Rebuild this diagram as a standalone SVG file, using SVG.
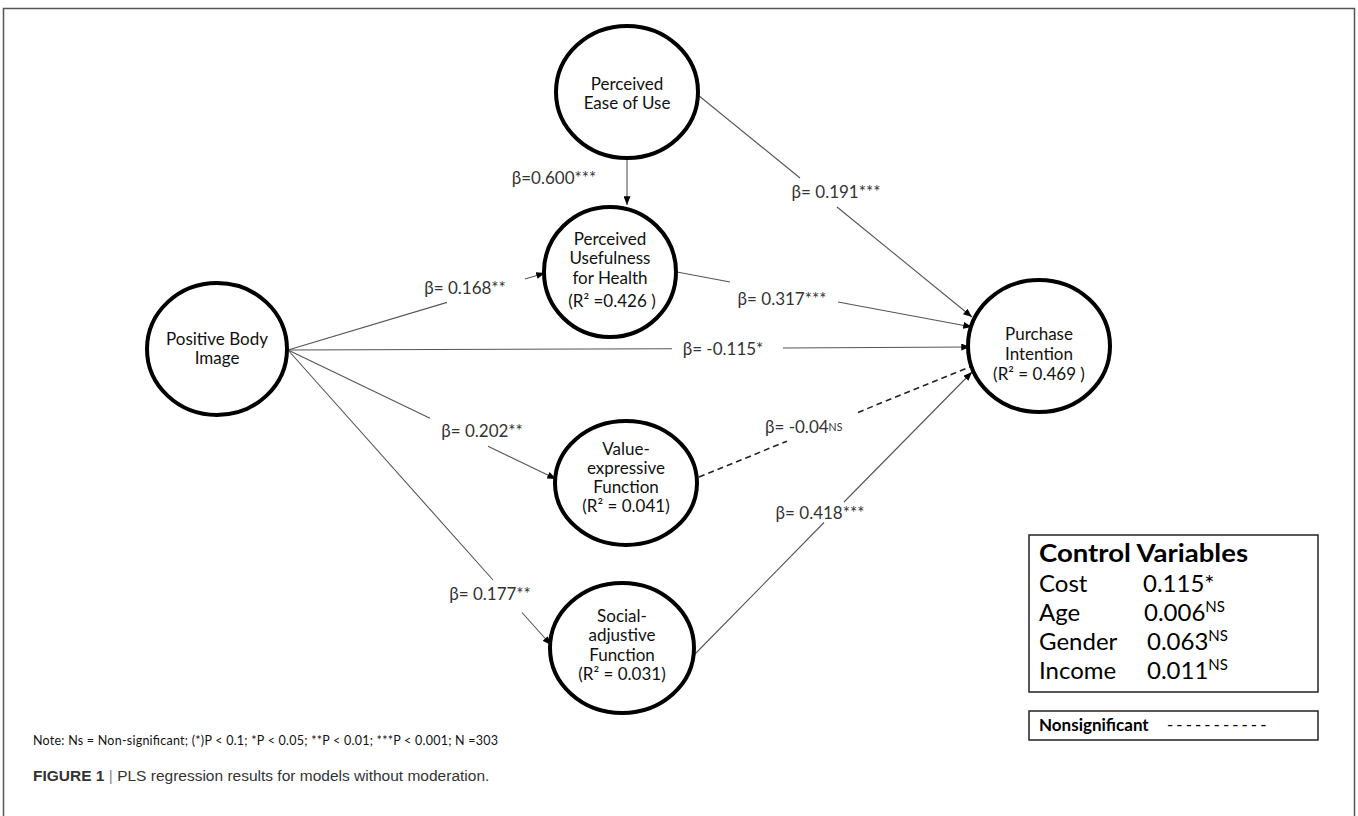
<svg xmlns="http://www.w3.org/2000/svg" width="1358" height="816" viewBox="0 0 1358 816">
<defs>
<style>
.frame{fill:none;stroke:#555;stroke-width:1.5}
.node{fill:#fff;stroke:#000;stroke-width:4}
.nt{font-family:Lato,"Open Sans",sans-serif;font-size:17px;fill:#111;text-anchor:middle}
.lbl{font-family:Lato,"Open Sans",sans-serif;font-size:17px;fill:#333;text-anchor:middle}
.edge{fill:none;stroke:#555;stroke-width:1.1}
.dash{stroke:#222;stroke-width:1.6;stroke-dasharray:6 4}
.box{fill:#fff;stroke:#222;stroke-width:1.5}
.cv{font-family:Lato,"Open Sans",sans-serif;font-size:24px;fill:#000}
.lg{font-family:Lato,"Open Sans",sans-serif;font-size:17px;fill:#000}
.note{font-family:Lato,"Open Sans",sans-serif;font-size:12.5px;fill:#111}
.cap{font-family:"Liberation Sans",Arial,sans-serif;font-size:15.5px;fill:#333}
</style>
<marker id="ah" viewBox="0 0 10 8" refX="10" refY="4" markerWidth="9" markerHeight="7" markerUnits="userSpaceOnUse" orient="auto">
<path d="M0,0 L10,4 L0,8 z" fill="#000"/>
</marker>
</defs>
<rect class="frame" x="3.5" y="8.5" width="1351" height="830"/>

<g id="connectors">
<path class="edge" d="M627,158 L627,205" marker-end="url(#ah)"/>
<path class="edge" d="M698,95 L800,178 M837,207 L972,317" marker-end="url(#ah)"/>
<path class="edge" d="M677,272 L730,282 M838,302 L972,327" marker-end="url(#ah)"/>
<path class="edge" d="M288,350 L447,302.4 M525,279 L545,273" marker-end="url(#ah)"/>
<path class="edge" d="M288,350 L672,348.8 M783,348 L970,347" marker-end="url(#ah)"/>
<path class="edge" d="M288,350 L430,418.3 M488,446.3 L556,479" marker-end="url(#ah)"/>
<path class="edge" d="M288,350 L493,580 M522,612.5 L551,645" marker-end="url(#ah)"/>
<path class="edge dash" d="M699,477 L787,441.2 M858,412.4 L972,366"/>
<path class="edge" d="M695,654 L824,522.5 M844,502 L972,372" marker-end="url(#ah)"/>
<text class="lbl" x="554" y="184">β=0.600***</text>
<text class="lbl" x="836" y="198">β= 0.191***</text>
<text class="lbl" x="465" y="294">β= 0.168**</text>
<text class="lbl" x="782" y="305">β= 0.317***</text>
<text class="lbl" x="723" y="355">β= -0.115*</text>
<text class="lbl" x="482" y="437">β= 0.202**</text>
<text class="lbl" x="765" y="433" style="text-anchor:start">β= -0.04<tspan font-size="10.5" dy="-2">NS</tspan></text>
<text class="lbl" x="490" y="600">β= 0.177**</text>
<text class="lbl" x="820" y="519">β= 0.418***</text>
</g>

<g id="peou">
<ellipse class="node" cx="627" cy="92" rx="71" ry="66"/>
<text class="nt" x="627" y="90">Perceived<tspan x="627" dy="19">Ease of Use</tspan></text>
</g>
<g id="pu">
<ellipse class="node" cx="610" cy="272" rx="66" ry="65"/>
<text class="nt" x="610" y="245">Perceived<tspan x="610" dy="19">Usefulness</tspan><tspan x="610" dy="20">for Health</tspan><tspan x="612" dy="23">(R² =0.426 )</tspan></text>
</g>
<g id="pbi">
<ellipse class="node" cx="217" cy="349" rx="70" ry="66"/>
<text class="nt" x="217" y="345">Positive Body<tspan x="217" dy="19">Image</tspan></text>
</g>
<g id="pi">
<ellipse class="node" cx="1039" cy="346" rx="71" ry="66"/>
<text class="nt" x="1039" y="340">Purchase<tspan x="1039" dy="20">Intention</tspan><tspan x="1039" dy="20">(R² = 0.469  )</tspan></text>
</g>
<g id="ve">
<ellipse class="node" cx="626" cy="483" rx="71" ry="62"/>
<text class="nt" x="626" y="455">Value-<tspan x="626" dy="19">expressive</tspan><tspan x="626" dy="19">Function</tspan><tspan x="626" dy="19">(R² = 0.041)</tspan></text>
</g>
<g id="sa">
<ellipse class="node" cx="622" cy="648" rx="72" ry="65"/>
<text class="nt" x="622" y="622">Social-<tspan x="622" dy="19">adjustive</tspan><tspan x="622" dy="19.5">Function</tspan><tspan x="622" dy="19">(R² = 0.031)</tspan></text>
</g>

<g id="control">
<rect class="box" x="1029" y="535" width="289" height="157"/>
<text class="cv" x="1039" y="562" font-weight="bold" textLength="209" lengthAdjust="spacingAndGlyphs">Control Variables</text>
<text class="cv" x="1039" y="592">Cost<tspan x="1143">0.115*</tspan><tspan x="1039" y="621">Age</tspan><tspan x="1144">0.006</tspan><tspan font-size="15" dy="-9">NS</tspan><tspan x="1039" y="650">Gender</tspan><tspan x="1147">0.063</tspan><tspan font-size="15" dy="-9">NS</tspan><tspan x="1039" y="679">Income</tspan><tspan x="1147">0.011</tspan><tspan font-size="15" dy="-9">NS</tspan></text>
</g>
<g id="legend">
<rect class="box" x="1029" y="711" width="289" height="29"/>
<text class="lg" x="1039" y="731" font-weight="bold">Nonsignificant</text>
<text class="lg" x="1167" y="731" style="letter-spacing:3px">-----------</text>
</g>

<text class="note" x="33" y="745" textLength="465" lengthAdjust="spacing">Note: Ns = Non-significant;  (*)P &lt; 0.1;  *P &lt; 0.05; **P &lt; 0.01; ***P &lt; 0.001; N =303</text>
<text class="cap" x="33" y="781"><tspan font-weight="bold">FIGURE 1</tspan> <tspan fill="#888">|</tspan> PLS regression results for models without moderation.</text>
</svg>
